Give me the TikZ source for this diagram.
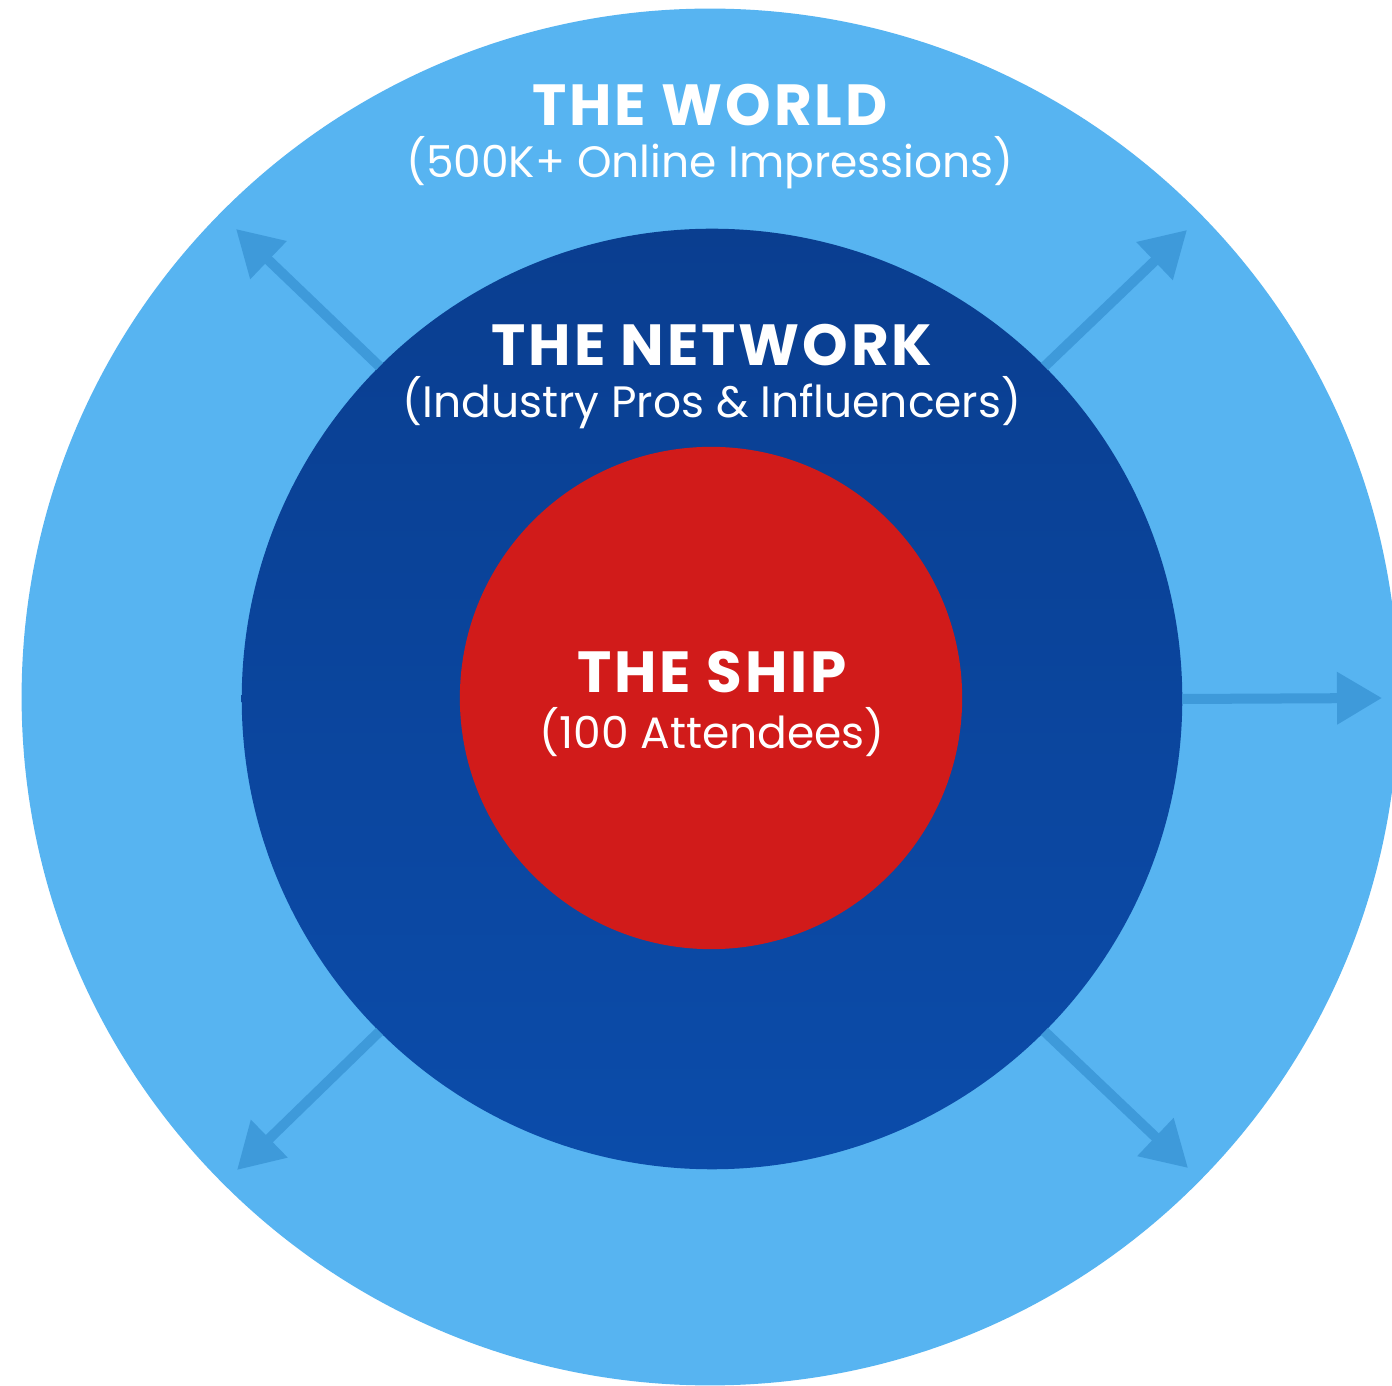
\documentclass[tikz,border=0pt]{standalone}
\usepackage{fontspec}
\setmainfont{Poppins}
\usetikzlibrary{arrows.meta}
\definecolor{worldblue}{HTML}{57B4F1}
\definecolor{arrowblue}{HTML}{3E9ADA}
\definecolor{nettop}{HTML}{0A3E90}
\definecolor{netbot}{HTML}{0B4CAA}
\definecolor{shipred}{HTML}{D11B1A}
\tikzset{
  ring/.style={circle,inner sep=0pt,outer sep=0pt},
  title/.style={text=white,font=\fontsize{16.5}{19}\selectfont\bfseries\addfontfeature{LetterSpace=5}},
  subtitle/.style={text=white,font=\fontsize{12.5}{15}\selectfont},
  spread/.style={->,draw=arrowblue,line width=0.1cm}
}
\begin{document}
\begin{tikzpicture}[line cap=butt,line join=round,>={Triangle[length=0.45cm,width=0.5cm]},x=0.01cm,y=0.01cm]
		\useasboundingbox[fill=white] (0,0) rectangle (1392,1385);
		\clip (0,0) rectangle (1392,1385);
		% rings
		\node[ring,fill=worldblue,minimum size=13.76cm] (world) at (710,688) {};
		\node[ring,top color=nettop,bottom color=netbot,minimum size=9.40cm] (net) at (712,686) {};
		\node[ring,fill=shipred,minimum size=5.02cm] (ship) at (711,687) {};
		% arrows going out
		\coordinate (ul) at (236,1156);
		\coordinate (ur) at (1187,1155);
		\coordinate (rr) at (1382,687);
		\coordinate (ll) at (237,215);
		\coordinate (lr) at (1188,217);
		\draw[spread] (net.135) -- (ul);
		\draw[spread] (net.45) -- (ur);
		\draw[spread] (net.0) -- (rr);
		\draw[spread] (net.225) -- (ll);
		\draw[spread] (net.-45) -- (lr);
		% labels
		\node[title] (worldt) at (710,1280) {THE WORLD};
		\node[subtitle] (worlds) at (710,1222) {(500K+ Online Impressions)};
		\node[title] (nett) at (712,1040) {THE NETWORK};
		\node[subtitle] (nets) at (712,982) {(Industry Pros \& Influencers)};
		\node[title] (shipt) at (712,713) {THE SHIP};
		\node[subtitle] (ships) at (712,653) {(100 Attendees)};
\end{tikzpicture}
\end{document}
